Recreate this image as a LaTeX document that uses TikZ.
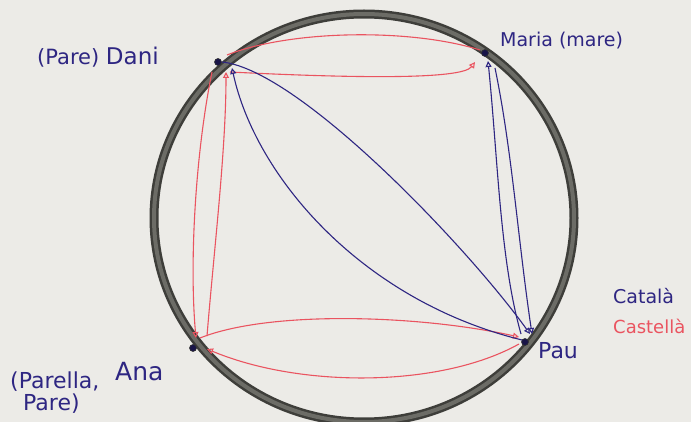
\documentclass[tikz,border=0pt]{standalone}
\usepackage{fontspec}
\newfontfamily\handfont{DejaVu Sans}
\usetikzlibrary{arrows.meta}
\definecolor{paper}{RGB}{236,235,231}
\definecolor{ringdark}{RGB}{62,62,58}
\definecolor{ringmid}{RGB}{108,108,102}
\definecolor{penred}{RGB}{234,84,96}
\definecolor{penblue}{RGB}{46,38,130}
\begin{document}
\begin{tikzpicture}[x=1pt,y=-1pt,
  dot/.style={circle,fill=penblue!55!black,draw=black!80,line width=0.6pt,inner sep=0pt,minimum size=7pt},
  redpen/.style={draw=penred,line width=1.1pt},
  bluepen/.style={draw=penblue,line width=1.1pt},
  tip/.style={-{Triangle[open,length=6pt,width=6pt]}},
  hand/.style={inner sep=0pt,text=penblue,font=\handfont}]
\fill[paper] (0,0) rectangle (691,422);
\useasboundingbox (0,0) rectangle (691,422);
% ring
\draw[ringdark,line width=9pt] (364,218) ellipse [x radius=210,y radius=204];
\draw[ringmid,line width=4pt] (364,218) ellipse [x radius=210,y radius=204];
% person dots
\node[dot] (dani) at (218,62) {};
\node[dot] (maria) at (485,53) {};
\node[dot] (pau) at (525,342) {};
\node[dot] (ana) at (193,348) {};
% red edges
\draw[redpen] ([shift={(-5,-3)}]maria.center) .. controls (410,28) and (290,30) .. ([shift={(9,-7)}]dani.center);
\draw[redpen,tip] ([shift={(12,10)}]dani.center) .. controls (350,78) and (462,80) .. ([shift={(-10,9)}]maria.center);
\draw[redpen,tip] ([shift={(-6,10)}]dani.center) .. controls (196,150) and (189,260) .. ([shift={(3,-10)}]ana.center);
\draw[redpen,tip] ([shift={(14,-12)}]ana.center) .. controls (214,250) and (226,150) .. ([shift={(8,10)}]dani.center);
\draw[redpen,tip] ([shift={(7,-10)}]ana.center) .. controls (270,310) and (420,315) .. ([shift={(-6,-5)}]pau.center);
\draw[redpen,tip] ([shift={(-6,2)}]pau.center) .. controls (440,388) and (300,388) .. ([shift={(14,1)}]ana.center);
% blue edges
\draw[bluepen,tip] ([shift={(4,0)}]dani.center) .. controls (300,70) and (470,250) .. ([shift={(5,-8)}]pau.center);
\draw[bluepen,tip] ([shift={(-3,-2)}]pau.center) .. controls (360,300) and (255,175) .. ([shift={(14,6)}]dani.center);
\draw[bluepen,tip] ([shift={(10,15)}]maria.center) .. controls (512,150) and (518,240) .. ([shift={(7,-8)}]pau.center);
\draw[bluepen,tip] ([shift={(-4,-8)}]pau.center) .. controls (500,260) and (498,160) .. ([shift={(3,8)}]maria.center);
% labels
\node[hand,anchor=base west] (ldani) at (37,65) {\fontsize{21}{24}\selectfont (Pare) \fontsize{23}{27}\selectfont Dani};
\node[hand,anchor=base west] (lmaria) at (500,47) {\fontsize{19}{22}\selectfont Maria (mare)};
\node[hand,anchor=base west] (lpau) at (538,358) {\fontsize{22}{25}\selectfont Pau};
\node[hand,anchor=base west] (lana1) at (10,388) {\fontsize{22}{25}\selectfont (Parella,};
\node[hand,anchor=base west] (lana) at (115,380) {\fontsize{25}{28}\selectfont Ana};
\node[hand,anchor=base west] (lana2) at (23,410) {\fontsize{22}{25}\selectfont Pare)};
\node[hand,anchor=base west] (lcat) at (613,303) {\fontsize{19}{22}\selectfont Català};
\node[hand,anchor=base west,text=penred] (lcas) at (613,333) {\fontsize{18}{21}\selectfont Castellà};
\end{tikzpicture}
\end{document}
